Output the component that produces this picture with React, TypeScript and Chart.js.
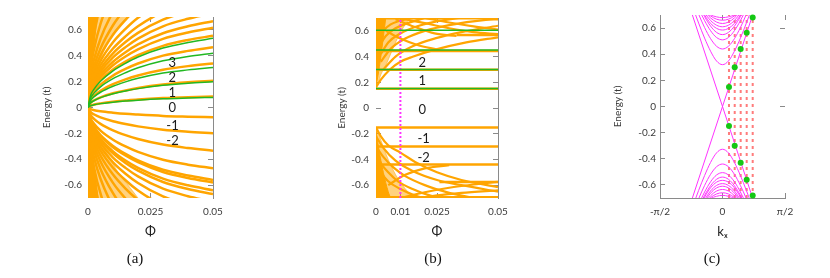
import React, { useEffect, useRef } from "react";
import { Chart, registerables } from "chart.js";

Chart.register(...registerables);

const FONT = "Lato, 'Open Sans', 'DejaVu Sans', sans-serif";
Chart.defaults.font.family = FONT;

const ORANGE = "#ffa500";
const ORANGE_LIGHT = "rgba(255,165,0,0.5)";
const GREEN = "#22b822";
const MAGENTA = "#ff33ff";
const DOT_GREEN = "#14c814";
const RED_DOT = "rgba(255,110,110,0.9)";
const AXIS = "#8a8a8a";
const TEXT = "#3a3a3a";

// ---------- shared ticks ----------
const energyTicks = [-0.6, -0.4, -0.2, 0, 0.2, 0.4, 0.6];
const energyTickLabels = ["-0.6", "-0.4", "-0.2", "0", "0.2", "0.4", "0.6"];
const phiTicksA = [0, 0.025, 0.05];
const phiTickLabelsA = ["0", "0.025", "0.05"];
const phiTicksB = [0, 0.01, 0.025, 0.05];
const phiTickLabelsB = ["0", "0.01", "0.025", "0.05"];
const kTicks = [-Math.PI / 2, 0, Math.PI / 2];
const kTickLabels = ["-π/2", "0", "π/2"];
const cRightTicks = [0.6, 0];

// ---------- panel (a) ----------
const phiA = [0, 0.001, 0.0025, 0.005, 0.01, 0.015, 0.02, 0.03, 0.04, 0.05];
const aGreenUp = [
  [0, 0.013, 0.021, 0.03, 0.041, 0.05, 0.057, 0.067, 0.073, 0.078],
  [0, 0.034, 0.054, 0.076, 0.106, 0.128, 0.146, 0.172, 0.188, 0.2],
  [0, 0.053, 0.084, 0.118, 0.164, 0.198, 0.226, 0.267, 0.291, 0.31],
  [0, 0.071, 0.113, 0.16, 0.223, 0.269, 0.307, 0.361, 0.395, 0.42],
  [0, 0.091, 0.144, 0.203, 0.284, 0.342, 0.391, 0.46, 0.503, 0.535],
];
const aOrangeUp = [
  [0, 0.014, 0.023, 0.032, 0.045, 0.054, 0.062, 0.073, 0.08, 0.085],
  [0, 0.035, 0.056, 0.079, 0.11, 0.132, 0.151, 0.178, 0.195, 0.207],
  [0, 0.058, 0.092, 0.129, 0.18, 0.218, 0.248, 0.292, 0.32, 0.34],
  [0, 0.079, 0.126, 0.177, 0.247, 0.298, 0.34, 0.401, 0.438, 0.466],
  [0, 0.094, 0.15, 0.211, 0.294, 0.355, 0.405, 0.477, 0.522, 0.555],
  [0, 0.105, 0.167, 0.234, 0.327, 0.395, 0.45, 0.531, 0.58, 0.617],
  [0, 0.114, 0.18, 0.254, 0.354, 0.428, 0.488, 0.574, 0.628, 0.668],
  [0, 0.124, 0.197, 0.277, 0.387, 0.467, 0.533, 0.628, 0.686, 0.73],
  [0, 0.134, 0.213, 0.3, 0.419, 0.506, 0.577, 0.679, 0.743, 0.79],
  [0, 0.146, 0.232, 0.327, 0.456, 0.55, 0.628, 0.74, 0.808, 0.86],
  [0, 0.162, 0.257, 0.361, 0.504, 0.608, 0.694, 0.817, 0.893, 0.95],
  [0, 0.18, 0.286, 0.403, 0.562, 0.678, 0.774, 0.912, 0.996, 1.06],
  [0, 0.204, 0.324, 0.456, 0.636, 0.768, 0.876, 1.03, 1.13, 1.2],
  [0, 0.238, 0.378, 0.532, 0.742, 0.896, 1.02, 1.2, 1.32, 1.4],
  [0, 0.289, 0.459, 0.646, 0.901, 1.09, 1.24, 1.46, 1.6, 1.7],
  [0, 0.357, 0.567, 0.798, 1.11, 1.34, 1.53, 1.81, 1.97, 2.1],
];
const aOrangeDown = [
  [0, -0.013, -0.021, -0.029, -0.04, -0.049, -0.055, -0.065, -0.071, -0.076],
  [0, -0.034, -0.054, -0.076, -0.106, -0.128, -0.146, -0.172, -0.188, -0.2],
  [0, -0.057, -0.09, -0.127, -0.177, -0.214, -0.244, -0.287, -0.314, -0.334],
  [0, -0.08, -0.127, -0.179, -0.249, -0.301, -0.343, -0.404, -0.442, -0.47],
  [0, -0.095, -0.151, -0.213, -0.297, -0.358, -0.409, -0.482, -0.526, -0.56],
  [0, -0.099, -0.157, -0.22, -0.307, -0.371, -0.423, -0.499, -0.545, -0.58],
  [0, -0.109, -0.173, -0.243, -0.339, -0.41, -0.467, -0.55, -0.602, -0.64],
  [0, -0.114, -0.181, -0.255, -0.355, -0.429, -0.489, -0.576, -0.63, -0.67],
  [0, -0.124, -0.197, -0.277, -0.387, -0.467, -0.533, -0.628, -0.686, -0.73],
  [0, -0.136, -0.216, -0.304, -0.424, -0.512, -0.584, -0.688, -0.752, -0.8],
  [0, -0.15, -0.238, -0.334, -0.466, -0.563, -0.642, -0.757, -0.827, -0.88],
  [0, -0.167, -0.265, -0.372, -0.519, -0.627, -0.715, -0.843, -0.921, -0.98],
  [0, -0.187, -0.297, -0.418, -0.583, -0.704, -0.803, -0.946, -1.03, -1.1],
  [0, -0.213, -0.338, -0.475, -0.663, -0.8, -0.913, -1.08, -1.18, -1.25],
  [0, -0.247, -0.392, -0.551, -0.769, -0.928, -1.06, -1.25, -1.36, -1.45],
  [0, -0.298, -0.473, -0.665, -0.928, -1.12, -1.28, -1.5, -1.65, -1.75],
  [0, -0.357, -0.567, -0.798, -1.11, -1.34, -1.53, -1.81, -1.97, -2.1],
];
// dense (speckled / solid) regions near Φ = 0
const aUpSpeckPhi = [0, 0.0008, 0.002, 0.0035, 0.0055, 0.008, 0.011, 0.016];
const aUpSpeckE = [0, 0.1, 0.2, 0.3, 0.4, 0.5, 0.6, 0.7];
const aUpSolidPhi = [0, 0.0003, 0.0012, 0.0025, 0.0035];
const aUpSolidE = [0, 0.1, 0.3, 0.5, 0.7];
const aDnSpeckPhi = [0, 0.0012, 0.004, 0.006, 0.009, 0.012, 0.016, 0.02];
const aDnSpeckE = [0, -0.1, -0.2, -0.3, -0.4, -0.5, -0.6, -0.7];
const aDnSolidPhi = [0, 0.0004, 0.0015, 0.0028, 0.004];
const aDnSolidE = [0, -0.1, -0.3, -0.5, -0.7];
const aLevelText = ["3", "2", "1", "0", "-1", "-2"];
const aLevelPhi = [0.0337, 0.0337, 0.0337, 0.0337, 0.0338, 0.0338];
const aLevelE = [0.344, 0.23, 0.116, -0.005, -0.144, -0.258];

// ---------- panel (b) ----------
const bGreenLevels = [0.152, 0.3, 0.452, 0.605];
const bOrangeLevels = [0.15, 0.298, 0.443, 0.698, -0.152, -0.3, -0.44, -0.695];
const bSegStart = [0.033, 0.026];
const bSegEnd = [0.05, 0.05];
const bSegE = [0.567, -0.575];
const bCurvePhi = [
  [0, 0.002, 0.0057, 0.01, 0.0153, 0.0235, 0.037, 0.05],
  [0.003, 0.008, 0.015, 0.025, 0.035, 0.05],
  [0.002, 0.006, 0.012, 0.02, 0.03, 0.045, 0.05],
  [0.002, 0.005, 0.01, 0.016, 0.024, 0.034],
  [0.001, 0.004, 0.008, 0.013, 0.02],
  [0.001, 0.003, 0.006, 0.01, 0.014],
  [0.012, 0.02, 0.03, 0.04, 0.05],
  [0.02, 0.03, 0.04, 0.05],
  [0.004, 0.01, 0.017, 0.025],
  [0.008, 0.016, 0.024, 0.033],
  [0, 0.002, 0.005, 0.01, 0.017, 0.025, 0.035, 0.05],
  [0, 0.003, 0.008, 0.015, 0.025, 0.035, 0.05],
  [0, 0.003, 0.007, 0.012, 0.02, 0.03, 0.04],
  [0, 0.002, 0.005, 0.009, 0.015, 0.022, 0.03],
  [0, 0.002, 0.005, 0.01, 0.016, 0.022],
  [0.01, 0.02, 0.03, 0.04, 0.05],
  [0.015, 0.025, 0.035, 0.05],
  [0.005, 0.012, 0.02, 0.03],
];
const bCurveE = [
  [0.16, 0.22, 0.3, 0.36, 0.4, 0.45, 0.51, 0.55],
  [0.3, 0.4, 0.48, 0.545, 0.59, 0.64],
  [0.36, 0.46, 0.54, 0.6, 0.645, 0.685, 0.69],
  [0.42, 0.51, 0.58, 0.63, 0.67, 0.7],
  [0.47, 0.56, 0.62, 0.66, 0.7],
  [0.53, 0.6, 0.65, 0.68, 0.7],
  [0.69, 0.66, 0.62, 0.59, 0.575],
  [0.7, 0.665, 0.635, 0.61],
  [0.6, 0.54, 0.49, 0.455],
  [0.69, 0.63, 0.58, 0.56],
  [-0.15, -0.22, -0.29, -0.347, -0.43, -0.5, -0.56, -0.615],
  [-0.22, -0.31, -0.41, -0.49, -0.56, -0.6, -0.65],
  [-0.3, -0.38, -0.46, -0.53, -0.6, -0.66, -0.7],
  [-0.36, -0.43, -0.5, -0.57, -0.63, -0.68, -0.71],
  [-0.44, -0.5, -0.57, -0.63, -0.68, -0.71],
  [-0.7, -0.655, -0.62, -0.595, -0.575],
  [-0.71, -0.68, -0.66, -0.64],
  [-0.6, -0.52, -0.47, -0.445],
];
const bUpSpeckPhi = [0, 0.001, 0.002, 0.004, 0.006, 0.009, 0.012, 0.014];
const bUpSpeckE = [0.17, 0.2, 0.26, 0.33, 0.42, 0.55, 0.65, 0.7];
const bUpSolidPhi = [0, 0.0008, 0.002, 0.003, 0.004];
const bUpSolidE = [0.17, 0.25, 0.4, 0.55, 0.7];
const bDnSpeckPhi = [0, 0.002, 0.005, 0.009, 0.013, 0.016];
const bDnSpeckE = [-0.15, -0.25, -0.4, -0.55, -0.65, -0.7];
const bDnSolidPhi = [0, 0.001, 0.003, 0.005, 0.006];
const bDnSolidE = [-0.17, -0.3, -0.5, -0.65, -0.7];
const bMarkerPhi = 0.01;
const bLevelText = ["2", "1", "0", "-1", "-2"];
const bLevelPhi = [0.019, 0.019, 0.019, 0.0195, 0.0195];
const bLevelE = [0.355, 0.215, -0.013, -0.24, -0.385];

// ---------- panel (c) ----------
const kSamples = [-0.8, -0.6, -0.45, -0.3, -0.15, 0, 0.15, 0.3, 0.45, 0.6, 0.8];
const cUpperBands = [
  [0.803, 0.638, 0.523, 0.423, 0.348, 0.32, 0.348, 0.423, 0.523, 0.638, 0.803],
  [0.86, 0.706, 0.604, 0.519, 0.461, 0.44, 0.461, 0.519, 0.604, 0.706, 0.86],
  [0.9, 0.75, 0.657, 0.58, 0.528, 0.51, 0.528, 0.58, 0.657, 0.75, 0.9],
  [0.92, 0.78, 0.688, 0.615, 0.567, 0.55, 0.567, 0.615, 0.688, 0.78, 0.92],
  [0.95, 0.79, 0.7, 0.636, 0.598, 0.585, 0.598, 0.636, 0.7, 0.79, 0.95],
  [0.95, 0.8, 0.718, 0.658, 0.622, 0.61, 0.622, 0.658, 0.718, 0.8, 0.95],
  [0.95, 0.81, 0.731, 0.678, 0.646, 0.635, 0.646, 0.678, 0.731, 0.81, 0.95],
  [0.95, 0.83, 0.734, 0.693, 0.668, 0.66, 0.668, 0.693, 0.734, 0.83, 0.95],
  [0.95, 0.85, 0.75, 0.703, 0.686, 0.68, 0.686, 0.703, 0.75, 0.85, 0.95],
];
const cLowerBands = [
  [-0.807, -0.642, -0.528, -0.428, -0.355, -0.327, -0.355, -0.428, -0.528, -0.642, -0.807],
  [-0.86, -0.706, -0.604, -0.519, -0.461, -0.44, -0.461, -0.519, -0.604, -0.706, -0.86],
  [-0.9, -0.75, -0.654, -0.576, -0.524, -0.506, -0.524, -0.576, -0.654, -0.75, -0.9],
  [-0.92, -0.77, -0.68, -0.606, -0.557, -0.54, -0.557, -0.606, -0.68, -0.77, -0.92],
  [-0.95, -0.795, -0.694, -0.622, -0.579, -0.565, -0.579, -0.622, -0.694, -0.795, -0.95],
  [-0.95, -0.81, -0.716, -0.646, -0.604, -0.59, -0.604, -0.646, -0.716, -0.81, -0.95],
  [-0.95, -0.82, -0.73, -0.663, -0.623, -0.61, -0.623, -0.663, -0.73, -0.82, -0.95],
  [-0.95, -0.83, -0.74, -0.683, -0.647, -0.635, -0.647, -0.683, -0.74, -0.83, -0.95],
  [-0.95, -0.84, -0.745, -0.697, -0.669, -0.66, -0.669, -0.697, -0.745, -0.84, -0.95],
  [-0.95, -0.86, -0.76, -0.707, -0.687, -0.68, -0.687, -0.707, -0.76, -0.86, -0.95],
];
const cCrossK = [-0.8, 0.8];
const cCrossDown = [0.74, -0.74];
const cCrossUp = [-0.74, 0.74];
const cDotK = [0.163, 0.307, 0.457, 0.608, 0.759];
const cDotUpper = [0.15, 0.3, 0.44, 0.565, 0.68];
const cDotLower = [-0.15, -0.3, -0.43, -0.56, -0.68];
const cGuideE = [-0.7, 0.7];

// ---------- helpers ----------
function line(xs: number[], ys: number[], color: string, width: number, extra: any = {}) {
  return {
    data: xs.map((x, i) => ({ x, y: ys[i] })),
    borderColor: color,
    backgroundColor: color,
    borderWidth: width,
    pointRadius: 0,
    cubicInterpolationMode: "monotone",
    fill: false,
    ...extra,
  };
}

const setTicks = (values: number[]) => (s: any) => {
  s.ticks = values.map((v) => ({ value: v }));
};

function yLeft(width: number, titlePad: number, labelPad: number, border: boolean) {
  return {
    type: "linear",
    position: "left",
    min: -0.7,
    max: 0.7,
    afterBuildTicks: setTicks(energyTicks),
    afterFit: (s: any) => {
      s.width = width;
    },
    ticks: {
      autoSkip: false,
      padding: labelPad,
      color: TEXT,
      font: { size: 10 },
      callback: (_v: any, i: number) => energyTickLabels[i],
    },
    grid: { drawOnChartArea: false, drawTicks: true, tickLength: -5, tickColor: AXIS, color: AXIS },
    border: { display: border, color: AXIS, width: 1 },
    title: {
      display: true,
      text: "Energy (t)",
      color: TEXT,
      font: { size: 10 },
      padding: { top: titlePad, bottom: 0 },
    },
  };
}

function yRight(ticks: number[], border: boolean) {
  return {
    type: "linear",
    position: "right",
    min: -0.7,
    max: 0.7,
    afterBuildTicks: setTicks(ticks),
    afterFit: (s: any) => {
      s.width = 0;
    },
    ticks: { display: false },
    grid: { drawOnChartArea: false, drawTicks: true, tickLength: -5, tickColor: AXIS, color: AXIS },
    border: { display: border, color: AXIS, width: 1 },
  };
}

function xBottom(min: number, max: number, ticks: number[], labels: string[], title: string, height: number, border: boolean) {
  return {
    type: "linear",
    position: "bottom",
    min,
    max,
    afterBuildTicks: setTicks(ticks),
    afterFit: (s: any) => {
      s.height = height;
    },
    ticks: {
      autoSkip: false,
      maxRotation: 0,
      padding: 13,
      color: TEXT,
      font: { size: 10 },
      callback: (_v: any, i: number) => labels[i],
    },
    grid: { drawOnChartArea: false, drawTicks: true, tickLength: -5, tickColor: AXIS, color: AXIS },
    border: { display: border, color: AXIS, width: 1 },
    title: {
      display: true,
      text: title,
      color: "#202020",
      font: { size: 13 },
      padding: { top: 0, bottom: 10 },
    },
  };
}

function xTop(min: number, max: number, ticks: number[]) {
  return {
    type: "linear",
    position: "top",
    min,
    max,
    afterBuildTicks: setTicks(ticks),
    afterFit: (s: any) => {
      s.height = 0;
    },
    ticks: { display: false },
    grid: { drawOnChartArea: false, drawTicks: true, tickLength: -5, tickColor: AXIS, color: AXIS },
    border: { display: false },
  };
}

function labelPlugin(texts: string[], xs: number[], ys: number[]) {
  return {
    id: "levelLabels",
    afterDatasetsDraw(chart: any) {
      const { ctx, scales } = chart;
      ctx.save();
      ctx.font = `13px ${FONT}`;
      ctx.fillStyle = "#1a1a1a";
      ctx.textAlign = "center";
      ctx.textBaseline = "middle";
      texts.forEach((t, i) => {
        ctx.fillText(t, scales.x.getPixelForValue(xs[i]), scales.y.getPixelForValue(ys[i]));
      });
      ctx.restore();
    },
  };
}

function baseOptions(scales: any, padding: any) {
  return {
    responsive: false,
    animation: false,
    events: [],
    layout: { padding, autoPadding: false },
    plugins: { legend: { display: false }, tooltip: { enabled: false } },
    scales,
  };
}

// ---------- chart configs ----------
function buildA() {
  const datasets: any[] = [];
  aGreenUp.forEach((ys) => datasets.push(line(phiA, ys, GREEN, 1.5, { order: 0 })));
  aOrangeUp.forEach((ys) => datasets.push(line(phiA, ys, ORANGE, 2.5, { order: 1 })));
  aOrangeDown.forEach((ys) => datasets.push(line(phiA, ys, ORANGE, 2.5, { order: 1 })));
  datasets.push(line(aUpSolidPhi, aUpSolidE, ORANGE, 1, { fill: "end", order: 2 }));
  datasets.push(line(aDnSolidPhi, aDnSolidE, ORANGE, 1, { fill: "start", order: 2 }));
  datasets.push(line(aUpSpeckPhi, aUpSpeckE, ORANGE_LIGHT, 1, { fill: "end", order: 3 }));
  datasets.push(line(aDnSpeckPhi, aDnSpeckE, ORANGE_LIGHT, 1, { fill: "start", order: 3 }));
  return {
    type: "line",
    data: { datasets },
    options: baseOptions(
      {
        x: xBottom(0, 0.05, phiTicksA, phiTickLabelsA, "Φ", 52, false),
        xT: xTop(0, 0.05, phiTicksA),
        y: yLeft(88, 41, 11, false),
        yR: yRight(energyTicks, true),
      },
      { left: 0, top: 14, right: 64, bottom: 0 }
    ),
    plugins: [labelPlugin(aLevelText, aLevelPhi, aLevelE)],
  };
}

function buildB() {
  const datasets: any[] = [];
  const full = [0, 0.05];
  bGreenLevels.forEach((e) => datasets.push(line(full, [e, e], GREEN, 1.5, { order: 0 })));
  datasets.push(
    line([bMarkerPhi, bMarkerPhi], [-0.7, 0.7], MAGENTA, 2, {
      order: 0,
      borderDash: [2, 2],
      cubicInterpolationMode: "default",
      tension: 0,
    })
  );
  bOrangeLevels.forEach((e) => datasets.push(line(full, [e, e], ORANGE, 2.5, { order: 1 })));
  bSegE.forEach((e, i) => datasets.push(line([bSegStart[i], bSegEnd[i]], [e, e], ORANGE, 2.5, { order: 1 })));
  bCurvePhi.forEach((xs, i) => datasets.push(line(xs, bCurveE[i], ORANGE, 2.2, { order: 1 })));
  datasets.push(line(bUpSolidPhi, bUpSolidE, ORANGE, 1, { fill: "end", order: 2 }));
  datasets.push(line(bDnSolidPhi, bDnSolidE, ORANGE, 1, { fill: "start", order: 2 }));
  datasets.push(line(bUpSpeckPhi, bUpSpeckE, ORANGE_LIGHT, 1, { fill: "end", order: 3 }));
  datasets.push(line(bDnSpeckPhi, bDnSpeckE, ORANGE_LIGHT, 1, { fill: "start", order: 3 }));
  return {
    type: "line",
    data: { datasets },
    options: baseOptions(
      {
        x: xBottom(0, 0.05, phiTicksB, phiTickLabelsB, "Φ", 52, false),
        xT: xTop(0, 0.05, phiTicksB),
        y: yLeft(99, 59, 12, false),
        yR: yRight(energyTicks, true),
      },
      { left: 0, top: 14, right: 55, bottom: 0 }
    ),
    plugins: [labelPlugin(bLevelText, bLevelPhi, bLevelE)],
  };
}

function buildC() {
  const datasets: any[] = [];
  datasets.push({
    data: cDotK.map((k, i) => ({ x: k, y: cDotUpper[i] })).concat(cDotK.map((k, i) => ({ x: k, y: cDotLower[i] }))),
    showLine: false,
    pointRadius: 3,
    pointBorderWidth: 0,
    pointBackgroundColor: DOT_GREEN,
    borderColor: DOT_GREEN,
    backgroundColor: DOT_GREEN,
    clip: false,
    order: 0,
  });
  cUpperBands.forEach((ys) => datasets.push(line(kSamples, ys, MAGENTA, 1, { order: 1 })));
  cLowerBands.forEach((ys) => datasets.push(line(kSamples, ys, MAGENTA, 1, { order: 1 })));
  datasets.push(line(cCrossK, cCrossDown, MAGENTA, 1, { order: 1, cubicInterpolationMode: "default", tension: 0 }));
  datasets.push(line(cCrossK, cCrossUp, MAGENTA, 1, { order: 1, cubicInterpolationMode: "default", tension: 0 }));
  cDotK.forEach((k) =>
    datasets.push(
      line([k, k], cGuideE, RED_DOT, 2, { order: 2, borderDash: [3, 4], cubicInterpolationMode: "default", tension: 0 })
    )
  );
  return {
    type: "line",
    data: { datasets },
    options: baseOptions(
      {
        x: xBottom(-Math.PI / 2, Math.PI / 2, kTicks, kTickLabels, "kₓ", 52, true),
        xT: xTop(-Math.PI / 2, Math.PI / 2, kTicks),
        y: yLeft(107, 59, 9, true),
        yR: yRight(cRightTicks, false),
      },
      { left: 0, top: 14, right: 45, bottom: 0 }
    ),
  };
}

function Panel({ left, width, height, build }: { left: number; width: number; height: number; build: () => any }) {
  const ref = useRef<HTMLCanvasElement>(null);
  useEffect(() => {
    const chart = new Chart(ref.current as HTMLCanvasElement, build());
    return () => chart.destroy();
  }, []);
  return (
    <div style={{ position: "absolute", left, top: 0, width, height }}>
      <canvas ref={ref} width={width} height={height} style={{ width, height, display: "block" }} />
    </div>
  );
}

const panelLabels = ["(a)", "(b)", "(c)"];
const panelLabelX = [135, 433, 712];

export default function App() {
  return (
    <div style={{ position: "absolute", left: 0, top: 0, width: 830, height: 278, background: "#fff", overflow: "hidden" }}>
      <Panel left={0} width={277} height={250} build={buildA} />
      <Panel left={277} width={276} height={250} build={buildB} />
      <Panel left={553} width={277} height={250} build={buildC} />
      {panelLabels.map((t, i) => (
        <div
          key={t}
          style={{
            position: "absolute",
            left: panelLabelX[i] - 25,
            width: 50,
            top: 249,
            lineHeight: "18px",
            textAlign: "center",
            fontFamily: "'Liberation Serif', 'Times New Roman', serif",
            fontSize: 15,
            color: "#111",
          }}
        >
          {t}
        </div>
      ))}
    </div>
  );
}
